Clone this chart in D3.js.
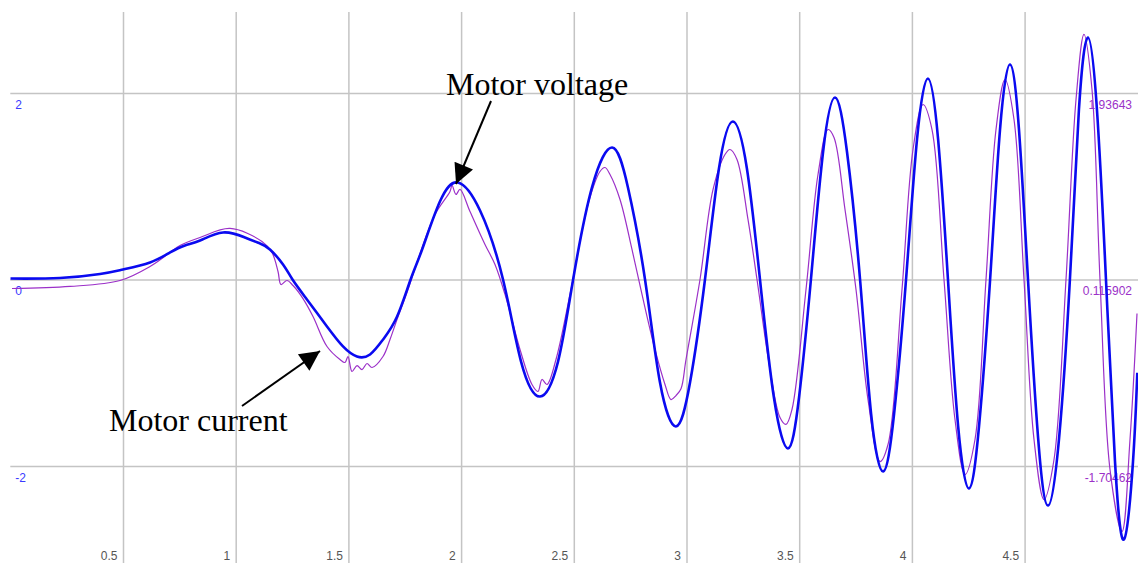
<!DOCTYPE html>
<html><head><meta charset="utf-8">
<script src="https://cdn.jsdelivr.net/npm/d3@7"></script>
<style>html,body{margin:0;padding:0;background:#fff;} svg{display:block;}</style>
</head><body>
<svg id="chart" width="1138" height="563"></svg>
<script>
// ---------- data ----------
const xTicks = [0.5, 1, 1.5, 2, 2.5, 3, 3.5, 4, 4.5];
const xTickLabels = ["0.5", "1", "1.5", "2", "2.5", "3", "3.5", "4", "4.5"];
const leftTicks = [2, 0, -2];
const leftTickLabels = ["2", "0", "-2"];
const rightTicks = [1.93643, 0.115902, -1.70462];
const rightTickLabels = ["1.93643", "0.115902", "-1.70462"];

// Motor voltage (left axis)
const voltageTime = [0, 0.22, 0.398, 0.5, 0.62, 0.709, 0.775, 0.842, 0.944, 1.041, 1.108, 1.152, 1.21, 1.252,
  1.316, 1.405, 1.476, 1.538, 1.596, 1.654, 1.716, 1.776, 1.827, 1.906, 1.986, 2.084, 2.186, 2.266, 2.35,
  2.43, 2.497, 2.581, 2.67, 2.74, 2.816, 2.882, 2.953, 3.016, 3.082, 3.144, 3.206, 3.268, 3.326, 3.388,
  3.45, 3.499, 3.552, 3.606, 3.659, 3.712, 3.77, 3.819, 3.872, 3.921, 3.974, 4.023, 4.071, 4.116, 4.16,
  4.205, 4.253, 4.298, 4.347, 4.391, 4.435, 4.475, 4.515, 4.56, 4.604, 4.653, 4.701, 4.741, 4.781, 4.821,
  4.861, 4.901, 4.941, 4.981, 5.0];
const voltage = [0.01, 0.016, 0.059, 0.107, 0.182, 0.29, 0.365, 0.418, 0.504, 0.45, 0.386, 0.322, 0.161, 0,
  -0.214, -0.504, -0.718, -0.826, -0.804, -0.643, -0.397, 0, 0.322, 0.836, 1.04, 0.74, 0, -0.88, -1.255,
  -0.88, 0, 0.99, 1.415, 0.99, 0, -1.1, -1.576, -1.1, 0, 1.19, 1.694, 1.19, 0, -1.27,
  -1.812, -1.27, 0, 1.37, 1.951, 1.37, 0, -1.44, -2.059, -1.44, 0, 1.51, 2.155, 1.51, 0,
  -1.57, -2.241, -1.57, 0, 1.61, 2.306, 1.61, 0, -1.7, -2.424, -1.7, 0, 1.82, 2.595, 1.82,
  0, -1.95, -2.788, -1.95, -1.0];

// Motor current (right axis)
const currentTime = [0.0075, 0.2649, 0.4867, 0.6198, 0.7085, 0.7529, 0.8416, 0.9747, 1.1167, 1.1611, 1.1877,
  1.201, 1.2276, 1.2542, 1.2986, 1.343, 1.4051, 1.4627, 1.4849, 1.4982, 1.516, 1.5382, 1.5604, 1.5825, 1.6047,
  1.6535, 1.6846, 1.7156, 1.76, 1.8044, 1.8842, 1.9508, 1.9597, 1.9774, 1.9951, 2.0395, 2.106, 2.1504, 2.1948,
  2.2613, 2.3145, 2.3411, 2.3589, 2.3811, 2.421, 2.4831, 2.563, 2.6162, 2.6384, 2.6606, 2.705, 2.7582, 2.8026,
  2.8602, 2.9046, 2.9312, 2.9534, 2.9756, 2.9978, 3.0599, 3.1176, 3.1708, 3.193, 3.224, 3.2728, 3.3128, 3.3705, 3.4148,
  3.4414, 3.468, 3.5302, 3.5834, 3.6278, 3.6544, 3.7032, 3.752, 3.8053, 3.8585, 3.894, 3.9561, 4.0049, 4.0493,
  4.0892, 4.1424, 4.1912, 4.2356, 4.28, 4.3288, 4.3731, 4.413, 4.453, 4.4973, 4.5417, 4.5861, 4.6305, 4.6837,
  4.7281, 4.7635, 4.799, 4.8345, 4.8789, 4.9321, 4.9676, 4.9987];
const current = [0.028, 0.048, 0.106, 0.243, 0.379, 0.448, 0.526, 0.614, 0.487, 0.379, 0.194,
  0.067, 0.106, 0.057, -0.07, -0.245, -0.538, -0.665, -0.694, -0.636, -0.782, -0.724, -0.763, -0.704, -0.743,
  -0.636, -0.47, -0.275, -0.011, 0.282, 0.75, 0.975, 1.034, 0.946, 0.995, 0.78, 0.458, 0.262, -0.03,
  -0.567, -0.909, -0.977, -0.86, -0.909, -0.665, -0.03, 0.848, 1.17, 1.209, 1.141, 0.897, 0.409, -0.03,
  -0.567, -0.909, -1.056, -1.017, -0.95, -0.665, 0.116, 0.994, 1.336, 1.385, 1.287, 0.702, 0.116, -0.763, -1.231,
  -1.299, -1.153, 0.018, 1.141, 1.58, 1.502, 0.799, 0.018, -1.056, -1.661, -1.495, 0.018, 1.385, 1.824,
  1.58, 0.116, -1.251, -1.788, -1.446, 0.116, 1.58, 2.068, 1.678, 0.116, -1.446, -2.032, -1.641, 0.116,
  1.873, 2.508, 1.971, 0.116, -1.739, -2.344, -1.446, -0.216];

// ---------- drawing ----------
const W = 1138, H = 563, gridTop = 12, left = 10.3;
const svg = d3.select("#chart");
svg.append("rect").attr("width", W).attr("height", H).attr("fill", "#fff");

const x = d3.scaleLinear().domain([0, 5]).range([left, 1137.3]);
const yL = d3.scaleLinear().domain([-2, 2]).range([466, 93]);
const yR = d3.scaleLinear().domain([rightTicks[2], rightTicks[0]]).range([466, 93]);

const gridColor = "#c4c4c4";
const labelFont = "12px 'Liberation Sans', Arial, sans-serif";

// vertical gridlines + bottom tick labels
const gx = svg.append("g").attr("transform", `translate(0,${H})`)
  .call(d3.axisTop(x).tickValues(xTicks)
    .tickFormat(d => xTickLabels[xTicks.indexOf(d)])
    .tickSize(H - gridTop).tickSizeOuter(0));
gx.select(".domain").remove();
gx.selectAll("line").attr("stroke", gridColor).attr("stroke-width", 1.5);
gx.selectAll("text").attr("y", -3).attr("x", -6).attr("dy", null)
  .attr("text-anchor", "end").attr("fill", "#555").style("font", labelFont);

// horizontal gridlines + left tick labels
const gyL = svg.append("g").attr("transform", `translate(${left},0)`)
  .call(d3.axisRight(yL).tickValues(leftTicks)
    .tickFormat(d => leftTickLabels[leftTicks.indexOf(d)])
    .tickSize(W - left).tickSizeOuter(0));
gyL.select(".domain").remove();
gyL.selectAll("line").attr("stroke", gridColor).attr("stroke-width", 1.5);
gyL.selectAll("text").attr("x", 5).attr("y", 15).attr("dy", null)
  .attr("text-anchor", "start").attr("fill", "#3a3aff").style("font", labelFont);

// right tick labels
const gyR = svg.append("g").attr("transform", `translate(1132,0)`)
  .call(d3.axisLeft(yR).tickValues(rightTicks)
    .tickFormat(d => rightTickLabels[rightTicks.indexOf(d)])
    .tickSize(0).tickPadding(0));
gyR.select(".domain").remove();
gyR.selectAll("text").attr("x", 0).attr("y", 15).attr("dy", null)
  .attr("text-anchor", "end").attr("fill", "#9b30c8").style("font", labelFont);

// clip
svg.append("clipPath").attr("id", "plotClip").append("rect")
  .attr("x", left).attr("y", 0).attr("width", W - left).attr("height", H);

const curData = currentTime.map((t, i) => [t, current[i]]);
const volData = voltageTime.map((t, i) => [t, voltage[i]]);

const curLine = d3.line().x(d => x(d[0])).y(d => yR(d[1])).curve(d3.curveCatmullRom.alpha(0.5));
const volLine = d3.line().x(d => x(d[0])).y(d => yL(d[1])).curve(d3.curveNatural);

const plot = svg.append("g").attr("clip-path", "url(#plotClip)");
plot.append("path").datum(curData).attr("d", curLine)
  .attr("fill", "none").attr("stroke", "#9b30c8").attr("stroke-width", 1.2);
plot.append("path").datum(volData).attr("d", volLine)
  .attr("fill", "none").attr("stroke", "#0a0af0").attr("stroke-width", 2.6).attr("stroke-linejoin", "round");

// annotations
svg.append("defs").append("marker").attr("id", "ah")
  .attr("viewBox", "0 0 10 10").attr("refX", 10).attr("refY", 5)
  .attr("markerUnits", "userSpaceOnUse").attr("markerWidth", 24).attr("markerHeight", 20)
  .attr("orient", "auto")
  .append("path").attr("d", "M0,0 L10,5 L0,10 z").attr("fill", "#000");

const annFont = "32px 'Liberation Serif', 'Times New Roman', serif";
svg.append("text").attr("x", 446).attr("y", 95).style("font", annFont).attr("fill", "#000").text("Motor voltage");
svg.append("text").attr("x", 109).attr("y", 431).style("font", annFont).attr("fill", "#000").text("Motor current");

svg.append("line").attr("x1", 491).attr("y1", 101).attr("x2", 456).attr("y2", 184)
  .attr("stroke", "#000").attr("stroke-width", 2).attr("marker-end", "url(#ah)");
svg.append("line").attr("x1", 242).attr("y1", 406).attr("x2", 320).attr("y2", 351)
  .attr("stroke", "#000").attr("stroke-width", 2).attr("marker-end", "url(#ah)");
</script>
</body></html>
